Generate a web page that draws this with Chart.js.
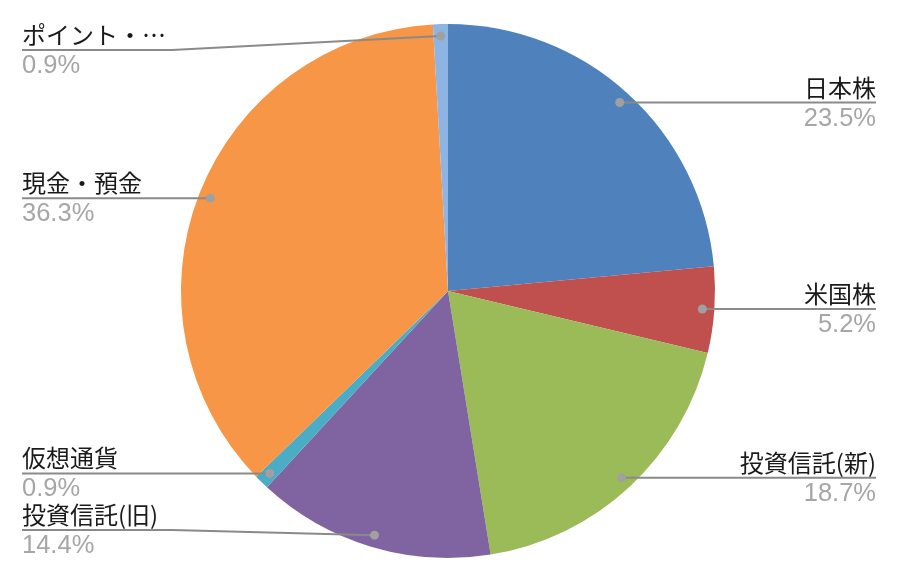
<!DOCTYPE html>
<html>
<head>
<meta charset="utf-8">
<script src="https://cdn.jsdelivr.net/npm/chart.js@4.4.0/dist/chart.umd.min.js"></script>
<style>
  html, body { margin: 0; padding: 0; background: #fff; }
  #wrap { width: 900px; height: 578px; }
</style>
</head>
<body>
<div id="wrap"><canvas id="chartOne"></canvas></div>
<script>
// datos (en sentido horario desde arriba)
const labels = ['日本株', '米国株', '投資信託(新)', '投資信託(旧)', '仮想通貨', '現金・預金', 'ポイント・…'];
const values = [23.5, 5.2, 18.7, 14.4, 0.9, 36.3, 0.9];
const colors = ['#4F81BD', '#C0504D', '#9BBB59', '#8064A2', '#4BACC6', '#F79646', '#8EB4E3'];

const FONT = '"Noto Sans CJK JP", "Noto Sans", sans-serif';
const NUM_FONT = '"Liberation Sans", "DejaVu Sans", sans-serif';

// etiquetas con linea guia
const leaderLabels = {
    id: 'leaderLabels',
    afterDatasetsDraw(chart) {
        const ctx = chart.ctx;
        const meta = chart.getDatasetMeta(0);
        const W = chart.width;
        meta.data.forEach((arc, i) => {
            const p = arc.getProps(['x', 'y', 'startAngle', 'endAngle', 'outerRadius'], true);
            const mid = (p.startAngle + p.endAngle) / 2;
            const r = p.outerRadius * 0.955;
            const dx = p.x + Math.cos(mid) * r;
            const dy = p.y + Math.sin(mid) * r;
            const right = Math.cos(mid) > 0;
            let ly = Math.min(Math.max(dy, 50), 530);
            const edge = right ? W - 24 : 22;
            const bend = right ? edge - 150 : edge + 150;

            ctx.save();
            ctx.strokeStyle = '#8a8a8a';
            ctx.lineWidth = 2;
            ctx.beginPath();
            ctx.moveTo(edge, ly);
            if (Math.abs(ly - dy) > 0.5) {
                ctx.lineTo(bend, ly);
            }
            ctx.lineTo(dx, dy);
            ctx.stroke();

            ctx.fillStyle = '#a0a0a0';
            ctx.beginPath();
            ctx.arc(dx, dy, 4.5, 0, Math.PI * 2);
            ctx.fill();

            ctx.textAlign = right ? 'right' : 'left';
            ctx.textBaseline = 'alphabetic';
            ctx.font = '24px ' + FONT;
            ctx.fillStyle = '#1a1a1a';
            ctx.fillText(labels[i], edge, ly - 6);
            ctx.font = '25.5px ' + NUM_FONT;
            ctx.fillStyle = '#a6a6a6';
            ctx.fillText(values[i].toFixed(1) + '%', edge, ly + 23);
            ctx.restore();
        });
    }
};

var ctxOne = document.getElementById('chartOne').getContext('2d');
var chartOne = new Chart(ctxOne, {
    type: 'pie',
    data: {
        labels: labels,
        datasets: [{
            data: values,
            backgroundColor: colors,
            borderWidth: 0
        }]
    },
    options: {
        responsive: true,
        maintainAspectRatio: false,
        animation: false,
        layout: { padding: { top: 24, bottom: 20, left: 0, right: 4 } },
        plugins: {
            legend: { display: false },
            tooltip: { enabled: false }
        }
    },
    plugins: [leaderLabels]
});
</script>
</body>
</html>
